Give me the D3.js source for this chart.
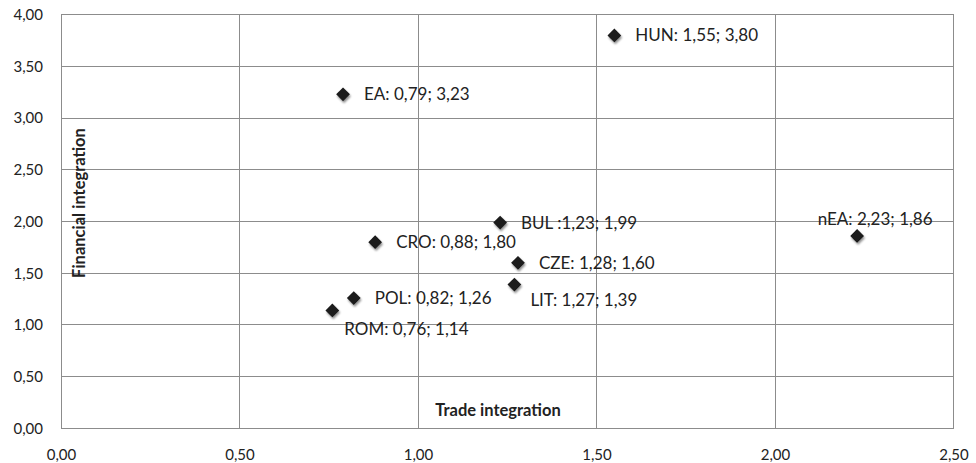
<!DOCTYPE html>
<html><head><meta charset="utf-8">
<script src="https://cdn.jsdelivr.net/npm/d3@7"></script>
<style>
html,body{margin:0;padding:0;background:#fff;}
svg{display:block;font-family:Lato,"Open Sans",sans-serif;}
</style></head>
<body>
<svg id="c" width="976" height="463"></svg>
<script>
const countries = ["HUN","EA","BUL","CRO","CZE","LIT","POL","ROM","nEA"];
const tradeValues = [1.55,0.79,1.23,0.88,1.28,1.27,0.82,0.76,2.23];
const financialValues = [3.80,3.23,1.99,1.80,1.60,1.39,1.26,1.14,1.86];
const pointLabels = ["HUN: 1,55; 3,80","EA: 0,79; 3,23","BUL :1,23; 1,99","CRO: 0,88; 1,80","CZE: 1,28; 1,60","LIT: 1,27; 1,39","POL: 0,82; 1,26","ROM: 0,76; 1,14","nEA: 2,23; 1,86"];
const xTicks = [0,0.5,1,1.5,2,2.5];
const yTicks = [0,0.5,1,1.5,2,2.5,3,3.5,4];
const xTitle = "Trade integration";
const yTitle = "Financial integration";

// label placement (layout only)
const placement = {HUN:"right",EA:"right",BUL:"right",CRO:"right",CZE:"right",LIT:"belowright",POL:"right",ROM:"below",nEA:"above"};

const svg = d3.select("#c");
const L=61, R=953.5, T=14.7, B=428.3;
const x = d3.scaleLinear().domain([0,2.5]).range([L,R]);
const y = d3.scaleLinear().domain([0,4]).range([B,T]);
const fmt = v => d3.format(".2f")(v).replace(".",",");

const defs = svg.append("defs");
const f = defs.append("filter").attr("id","sh").attr("x","-50%").attr("y","-50%").attr("width","200%").attr("height","200%");
f.append("feGaussianBlur").attr("in","SourceAlpha").attr("stdDeviation",1.3).attr("result","b");
f.append("feOffset").attr("in","b").attr("dx",1).attr("dy",1.5).attr("result","o");
f.append("feComponentTransfer").attr("in","o").attr("result","o2").append("feFuncA").attr("type","linear").attr("slope",0.45);
const m = f.append("feMerge"); m.append("feMergeNode").attr("in","o2"); m.append("feMergeNode").attr("in","SourceGraphic");

// gridlines
const grid = svg.append("g");
grid.selectAll(".gx").data(xTicks).join("line")
  .attr("x1",d=>x(d)).attr("x2",d=>x(d)).attr("y1",T).attr("y2",B)
  .attr("stroke","#8c8c8c").attr("stroke-width",1).attr("shape-rendering","crispEdges");
grid.selectAll(".gy").data(yTicks).join("line")
  .attr("y1",d=>y(d)).attr("y2",d=>y(d)).attr("x1",L).attr("x2",R)
  .attr("stroke","#8c8c8c").attr("stroke-width",1).attr("shape-rendering","crispEdges");

// axes
const xAxis = d3.axisBottom(x).tickValues(xTicks).tickFormat(fmt).tickSize(0).tickPadding(21);
const yAxis = d3.axisLeft(y).tickValues(yTicks).tickFormat(fmt).tickSize(0).tickPadding(18);
const gx = svg.append("g").attr("transform",`translate(0,${B})`).call(xAxis);
const gy = svg.append("g").attr("transform",`translate(${L},0)`).call(yAxis);
[gx,gy].forEach(g=>{
  g.select(".domain").remove();
  g.selectAll("text").attr("font-family","Lato,'Open Sans',sans-serif").attr("font-size",15).attr("fill","#222");
});

// titles
svg.append("text").attr("x",498).attr("y",416).attr("text-anchor","middle")
  .attr("font-size",16.5).attr("font-weight","bold").attr("fill","#222").text(xTitle);
svg.append("text").attr("transform","translate(85,203) rotate(-90)").attr("text-anchor","middle")
  .attr("font-size",16.5).attr("font-weight","bold").attr("fill","#222").text(yTitle);

// points
const data = countries.map((c,i)=>({c, xv:tradeValues[i], yv:financialValues[i], label:pointLabels[i]}));
const diamond = d3.symbol().type(d3.symbolDiamond2).size(120);
svg.append("g").selectAll("path").data(data).join("path")
  .attr("d",diamond)
  .attr("transform",d=>`translate(${x(d.xv)},${y(d.yv)})`)
  .attr("fill","#1a1a1a").attr("filter","url(#sh)");

svg.append("g").selectAll("text").data(data).join("text")
  .attr("font-size",17).attr("fill","#222")
  .attr("x",d=>{const p=placement[d.c], px=x(d.xv);
     if(p==="right") return px+21; if(p==="belowright") return px+16; if(p==="below") return px+12; return px+18;})
  .attr("y",d=>{const p=placement[d.c], py=y(d.yv);
     if(p==="right") return py+6; if(p==="belowright") return py+21; if(p==="below") return py+25; return py-11;})
  .attr("text-anchor",d=>placement[d.c]==="above"?"middle":"start")
  .text(d=>d.label);
</script>
</body></html>
